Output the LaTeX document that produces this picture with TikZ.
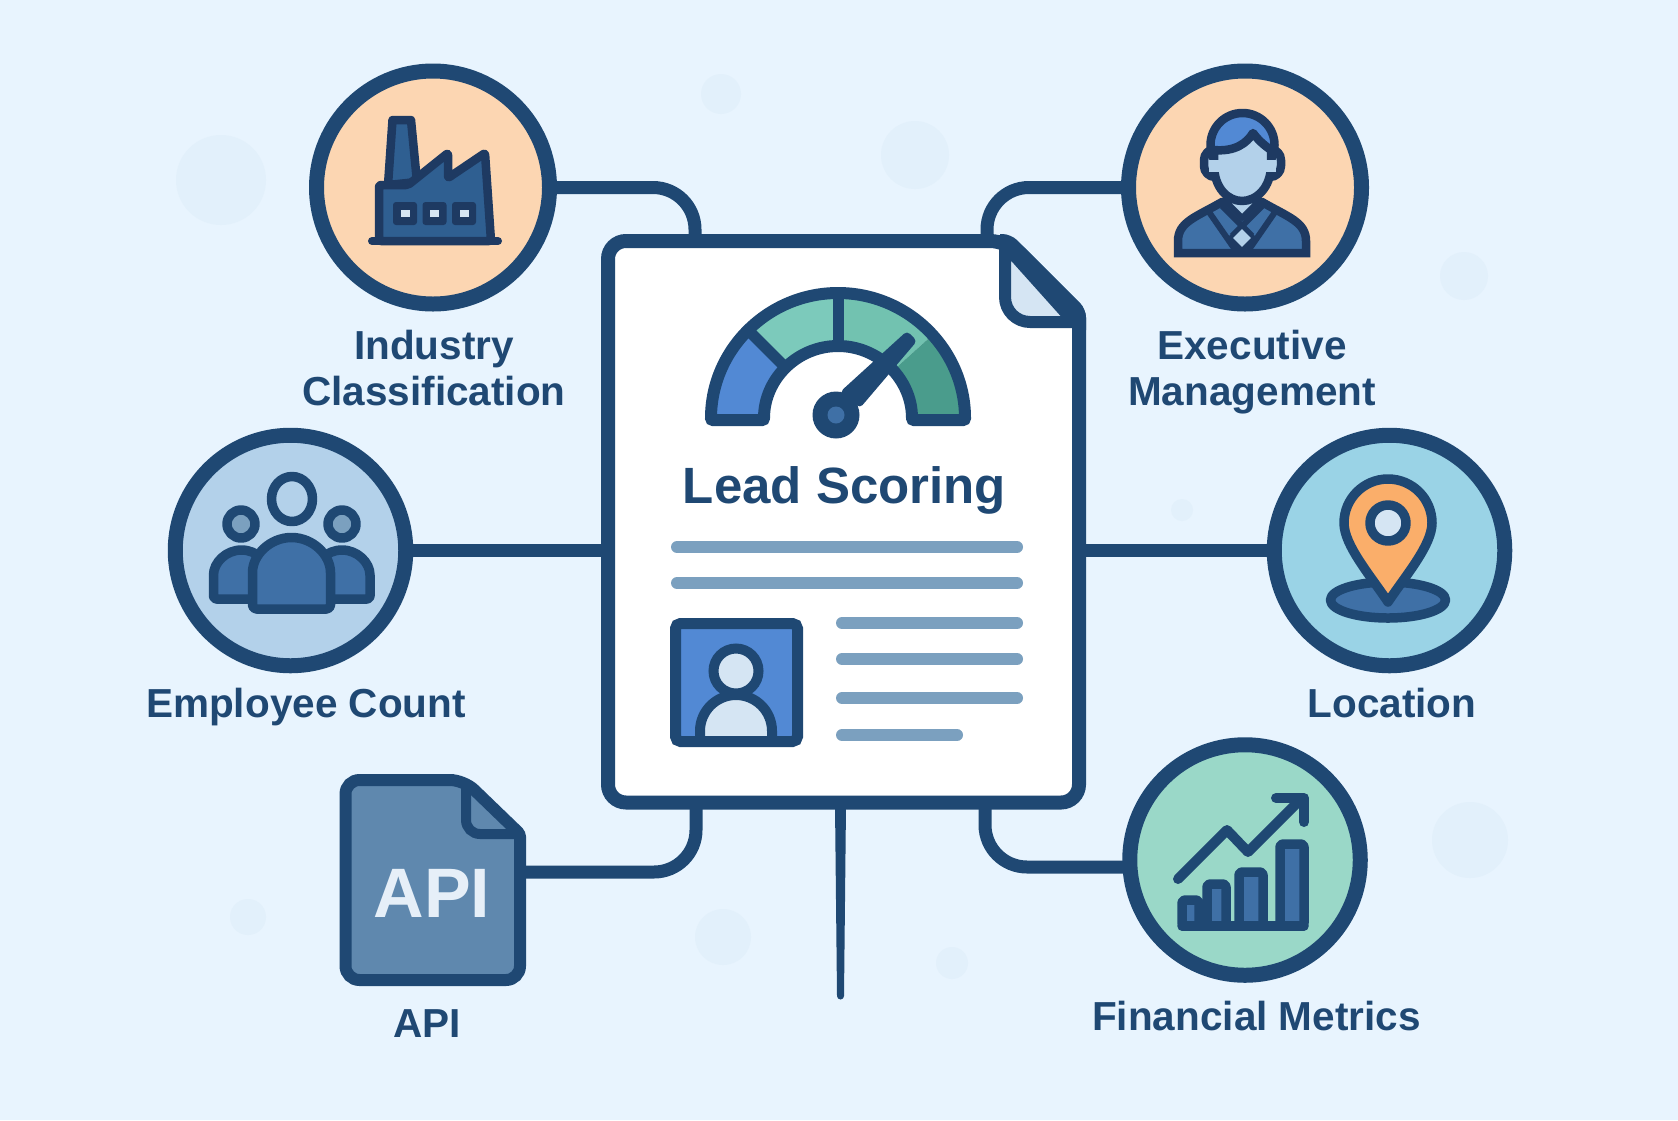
\documentclass[tikz,border=0pt]{standalone}
\usepackage{fontspec}
\setmainfont{Liberation Sans}

\definecolor{bgblue}{HTML}{E8F4FE}
\definecolor{blobblue}{HTML}{E2F0FB}
\definecolor{navy}{HTML}{1F4873}
\definecolor{inkdark}{HTML}{1E3A62}
\definecolor{midblue}{HTML}{3F70A6}
\definecolor{factoryblue}{HTML}{2F5F91}
\definecolor{brightblue}{HTML}{5289D4}
\definecolor{paleblue}{HTML}{D5E5F3}
\definecolor{peach}{HTML}{FCD6B2}
\definecolor{skyblue}{HTML}{B3D1EA}
\definecolor{aqua}{HTML}{9AD3E6}
\definecolor{mint}{HTML}{9AD8C8}
\definecolor{tealone}{HTML}{7CCABB}
\definecolor{tealtwo}{HTML}{72C2B0}
\definecolor{tealdark}{HTML}{4A9C8C}
\definecolor{barblue}{HTML}{7BA0BF}
\definecolor{filesteel}{HTML}{5F88AE}
\definecolor{pinorange}{HTML}{FAAE6A}

\tikzset{
  iconring/.style = {circle, draw = navy, line width = 15pt, minimum size = #1, inner sep = 0pt},
  linkline/.style = {draw = navy, line width = 13pt, rounded corners = 42pt},
  labeltext/.style = {font = \fontsize{40.5}{46}\selectfont\bfseries, text = navy, align = center, anchor = base, inner sep = 0pt},
  textbar/.style = {draw = barblue, line width = 12pt, line cap = round},
  iconline/.style = {draw = navy, line width = 9.5pt, line join = round},
  darkline/.style = {draw = inkdark, line width = 8.5pt, line join = round}
}

\begin{document}
\begin{tikzpicture}[x = 1pt, y = 1pt, yscale = -1]

  \useasboundingbox (0, 0) rectangle (1678, 1120);
  \fill[bgblue] (0, 0) rectangle (1678, 1120);
  \foreach \px/\py/\rad in {221/180/45, 721/94/20, 915/155/34, 1464/276/24, 1470/840/38, 248/917/18, 723/937/28, 952/963/16, 1182/510/11}
    \fill[blobblue] (\px, \py) circle (\rad);

  % main sheet
  \draw[navy, line width = 14pt, fill = white, rounded corners = 18pt] (608, 241) -- (1008, 241) [rounded corners = 6pt] -- (1079, 312) [rounded corners = 18pt] -- (1079, 802.5) -- (608, 802.5) -- cycle;
  \draw[navy, line width = 12pt, line join = round, fill = paleblue] (1005, 245) -- (1005, 297) arc[start angle = 180, end angle = 90, radius = 25] -- (1074, 322) -- cycle;
  \draw[navy, line width = 14pt, rounded corners = 6pt] (1000, 241) -- (1008, 241) -- (1079, 312) -- (1079, 330);
  \node[minimum width = 471pt, minimum height = 561.5pt, inner sep = 0pt] (scoredoc) at (843.5, 522) {};

  % gauge
  \begin{scope}[shift = {(838, 420)}]
    \foreach \from/\to/\tint in {180/135/brightblue, 135/90/tealone, 90/42/tealtwo, 42/0/tealdark}
      \fill[\tint] (-\from:127) arc[start angle = -\from, end angle = -\to, radius = 127] -- (-\to:74) arc[start angle = -\to, end angle = -\from, radius = 74] -- cycle;
    \draw[navy, line width = 12pt, rounded corners = 2pt] (-180:127) arc[start angle = -180, end angle = 0, radius = 127] -- (0:74) arc[start angle = 0, end angle = -180, radius = 74] -- cycle;
    \draw[navy, line width = 11pt] (-90:74) -- (-90:127);
    \draw[navy, line width = 11pt] (-135:74) -- (-135:127);
  \end{scope}
  \fill[navy, rounded corners = 4pt] (840, 392) -- (907, 331) -- (917, 341) -- (860, 408) -- cycle;
  \fill[navy] (836, 415) circle (23.5);
  \fill[midblue] (836, 415) circle (8.5);

  \node[labeltext, font = \fontsize{51}{51}\selectfont\bfseries] (scoretitle) at (844.5, 503) {Lead Scoring};

  % text lines
  \draw[textbar] (677, 547) -- (1017, 547);
  \draw[textbar] (677, 583) -- (1017, 583);
  \foreach \py/\xend in {623/1017, 659/1017, 698/1017, 735/957}
    \draw[textbar] (842, \py) -- (\xend, \py);

  % portrait
  \fill[brightblue] (675.5, 623.5) rectangle (797.5, 741.5);
  \draw[navy, line width = 10pt, fill = paleblue] (700, 741) -- (700, 731) arc[start angle = 180, end angle = 360, radius = 36] -- (772, 741);
  \draw[navy, line width = 10pt, fill = paleblue] (736, 671) circle (22.5);
  \draw[navy, line width = 11pt, rounded corners = 5pt] (675.5, 623.5) rectangle (797.5, 741.5);

  % satellite rings
  \node[iconring = 233pt, fill = peach] (industry) at (433, 187.5) {};
  \node[iconring = 233pt, fill = peach] (executive) at (1245, 187.5) {};
  \node[iconring = 230.5pt, fill = skyblue] (employee) at (290.5, 550.5) {};
  \node[iconring = 230.5pt, fill = aqua] (location) at (1389.5, 550.5) {};
  \node[iconring = 230.5pt, fill = mint] (financial) at (1245, 860) {};

  % api file
  \draw[navy, line width = 12pt, fill = filesteel, rounded corners = 14pt] (345.5, 780) -- (464, 780) [rounded corners = 3pt] -- (520, 834) [rounded corners = 14pt] -- (520, 980) -- (345.5, 980) -- cycle;
  \draw[navy, line width = 10pt, rounded corners = 14pt] (466, 782) -- (466, 834) -- (518, 834);
  \node[minimum width = 174.5pt, minimum height = 200pt, inner sep = 0pt] (apifile) at (432.75, 880) {};
  \node[font = \fontsize{70}{70}\selectfont\bfseries, text = paleblue!60!white, anchor = base, inner sep = 0pt] (apimark) at (432, 917) {API};

  % connectors
  \coordinate (stubNW) at (695, 241);
  \coordinate (stubNE) at (987, 241);
  \coordinate (stubSW) at (696, 802);
  \coordinate (stubSE) at (985, 802);
  \coordinate (apiport) at (apifile.east |- 0, 872);
  \coordinate (finport) at (1125, 867);
  \coordinate (tailtop) at (840.5, 805);
  \coordinate (tailend) at (840.5, 996);
  \draw[linkline] (industry.east) -| (stubNW);
  \draw[linkline] (executive.west) -| (stubNE);
  \draw[linkline] (apiport) -| (stubSW);
  \draw[linkline] (finport) -| (stubSE);
  \draw[linkline] (employee.east) -- (employee.east -| scoredoc.west);
  \draw[linkline] (location.west) -- (location.west -| scoredoc.east);
  \fill[navy] ([xshift = -5.5pt]tailtop) -- ([xshift = 5.5pt]tailtop) -- ([xshift = 3.5pt]tailend) arc[start angle = 0, end angle = 180, radius = 3.5] -- cycle;

  % factory
  \draw[darkline, fill = factoryblue] (388, 185) -- (392.5, 120) -- (411, 120) -- (417, 182) -- cycle;
  \draw[darkline, fill = factoryblue, rounded corners = 2pt] (379, 241) -- (379, 185) -- (408, 185) -- (448, 153) -- (448, 178) -- (485, 153) -- (491, 241) -- cycle;
  \foreach \px in {405, 434.5, 464} {
    \fill[inkdark, rounded corners = 3pt] (\px - 12, 202) rectangle (\px + 12, 225);
    \fill[paleblue] (\px - 4.5, 210) rectangle (\px + 4.5, 217);
  }
  \draw[inkdark, line width = 8pt, line cap = round] (372, 241) -- (498, 241);

  % manager
  \draw[darkline, fill = midblue, line join = miter] (1178, 253) -- (1178, 241) .. controls (1178, 222) and (1196, 217) .. (1222, 202) -- (1262, 202) .. controls (1288, 217) and (1306, 222) .. (1306, 241) -- (1306, 253) -- cycle;
  \draw[darkline, line width = 6pt, fill = skyblue] (1224, 200) -- (1242, 218) -- (1260, 200) -- cycle;
  \draw[darkline, fill = skyblue, rounded corners = 11pt] (1204, 149) rectangle (1281, 177);
  \draw[darkline, fill = brightblue] (1242.5, 145) circle (32);
  \draw[darkline, fill = skyblue] (1214, 150) .. controls (1235, 152) and (1247, 143) .. (1253, 133) .. controls (1258, 140) and (1265, 146) .. (1271, 150) -- (1271, 165) .. controls (1271, 188) and (1256, 201) .. (1242, 201) .. controls (1228, 201) and (1214, 188) .. (1214, 165) -- cycle;
  \fill[skyblue] (1209, 160) rectangle (1276, 172);
  \draw[darkline, line width = 6pt] (1222, 206) -- (1252, 236);
  \draw[darkline, line width = 6pt] (1262, 206) -- (1232, 236);
  \draw[darkline, line width = 6pt] (1209, 212) -- (1236, 251);
  \draw[darkline, line width = 6pt] (1275, 212) -- (1248, 251);
  \draw[darkline, line width = 4pt, fill = skyblue] (1242, 226) -- (1254, 238) -- (1242, 250) -- (1230, 238) -- cycle;
  \draw[darkline] (1178, 253) -- (1306, 253);

  % people
  \draw[iconline] (292, 499) ellipse (20.5 and 22.5);
  \draw[iconline, fill = barblue] (241, 524) circle (14);
  \draw[iconline, fill = barblue] (342, 524) circle (14);
  \draw[iconline, fill = midblue, rounded corners = 3pt] (213.5, 599) -- (213.5, 578) arc[start angle = 180, end angle = 360, radius = 28] -- (269.5, 599) -- cycle;
  \draw[iconline, fill = midblue, rounded corners = 3pt] (314, 599) -- (314, 578) arc[start angle = 180, end angle = 360, radius = 28] -- (370, 599) -- cycle;
  \draw[iconline, fill = midblue, rounded corners = 4pt] (252.5, 609) -- (252.5, 576.5) arc[start angle = 180, end angle = 360, radius = 39] -- (330.5, 609) -- cycle;

  % pin
  \draw[iconline, fill = midblue] (1388, 600) ellipse (57.5 and 18);
  \draw[iconline, fill = pinorange] (1388, 602) .. controls (1370, 575) and (1344, 545) .. (1344, 523) arc[start angle = 180, end angle = 360, radius = 44] .. controls (1432, 545) and (1406, 575) .. (1388, 602) -- cycle;
  \draw[iconline, fill = paleblue] (1388, 523) circle (18);

  % chart
  \foreach \xa/\xb/\ytop in {1182/1199/900, 1207/1226/884, 1239/1263/872, 1280/1304/844}
    \draw[iconline, fill = midblue, rounded corners = 3pt] (\xa, 926) -- (\xa, \ytop) -- (\xb, \ytop) -- (\xb, 926) -- cycle;
  \draw[iconline, line cap = round] (1182, 926) -- (1304, 926);
  \draw[iconline, line width = 10pt, line cap = round] (1178, 879) -- (1227, 830) -- (1248, 852) -- (1302, 798);
  \draw[iconline, line width = 10pt, line cap = round] (1276, 798) -- (1304, 798) -- (1304, 822);

  % labels
  \node[labeltext] (industrylabel) at (434, 405) {Industry\\Classification};
  \node[labeltext] (executivelabel) at (1252, 405) {Executive\\Management};
  \node[labeltext] (employeelabel) at (306, 717) {Employee Count};
  \node[labeltext] (locationlabel) at (1392, 717) {Location};
  \node[labeltext] (apilabel) at (427, 1037) {API};
  \node[labeltext] (financiallabel) at (1256.5, 1030) {Financial Metrics};

\end{tikzpicture}
\end{document}
